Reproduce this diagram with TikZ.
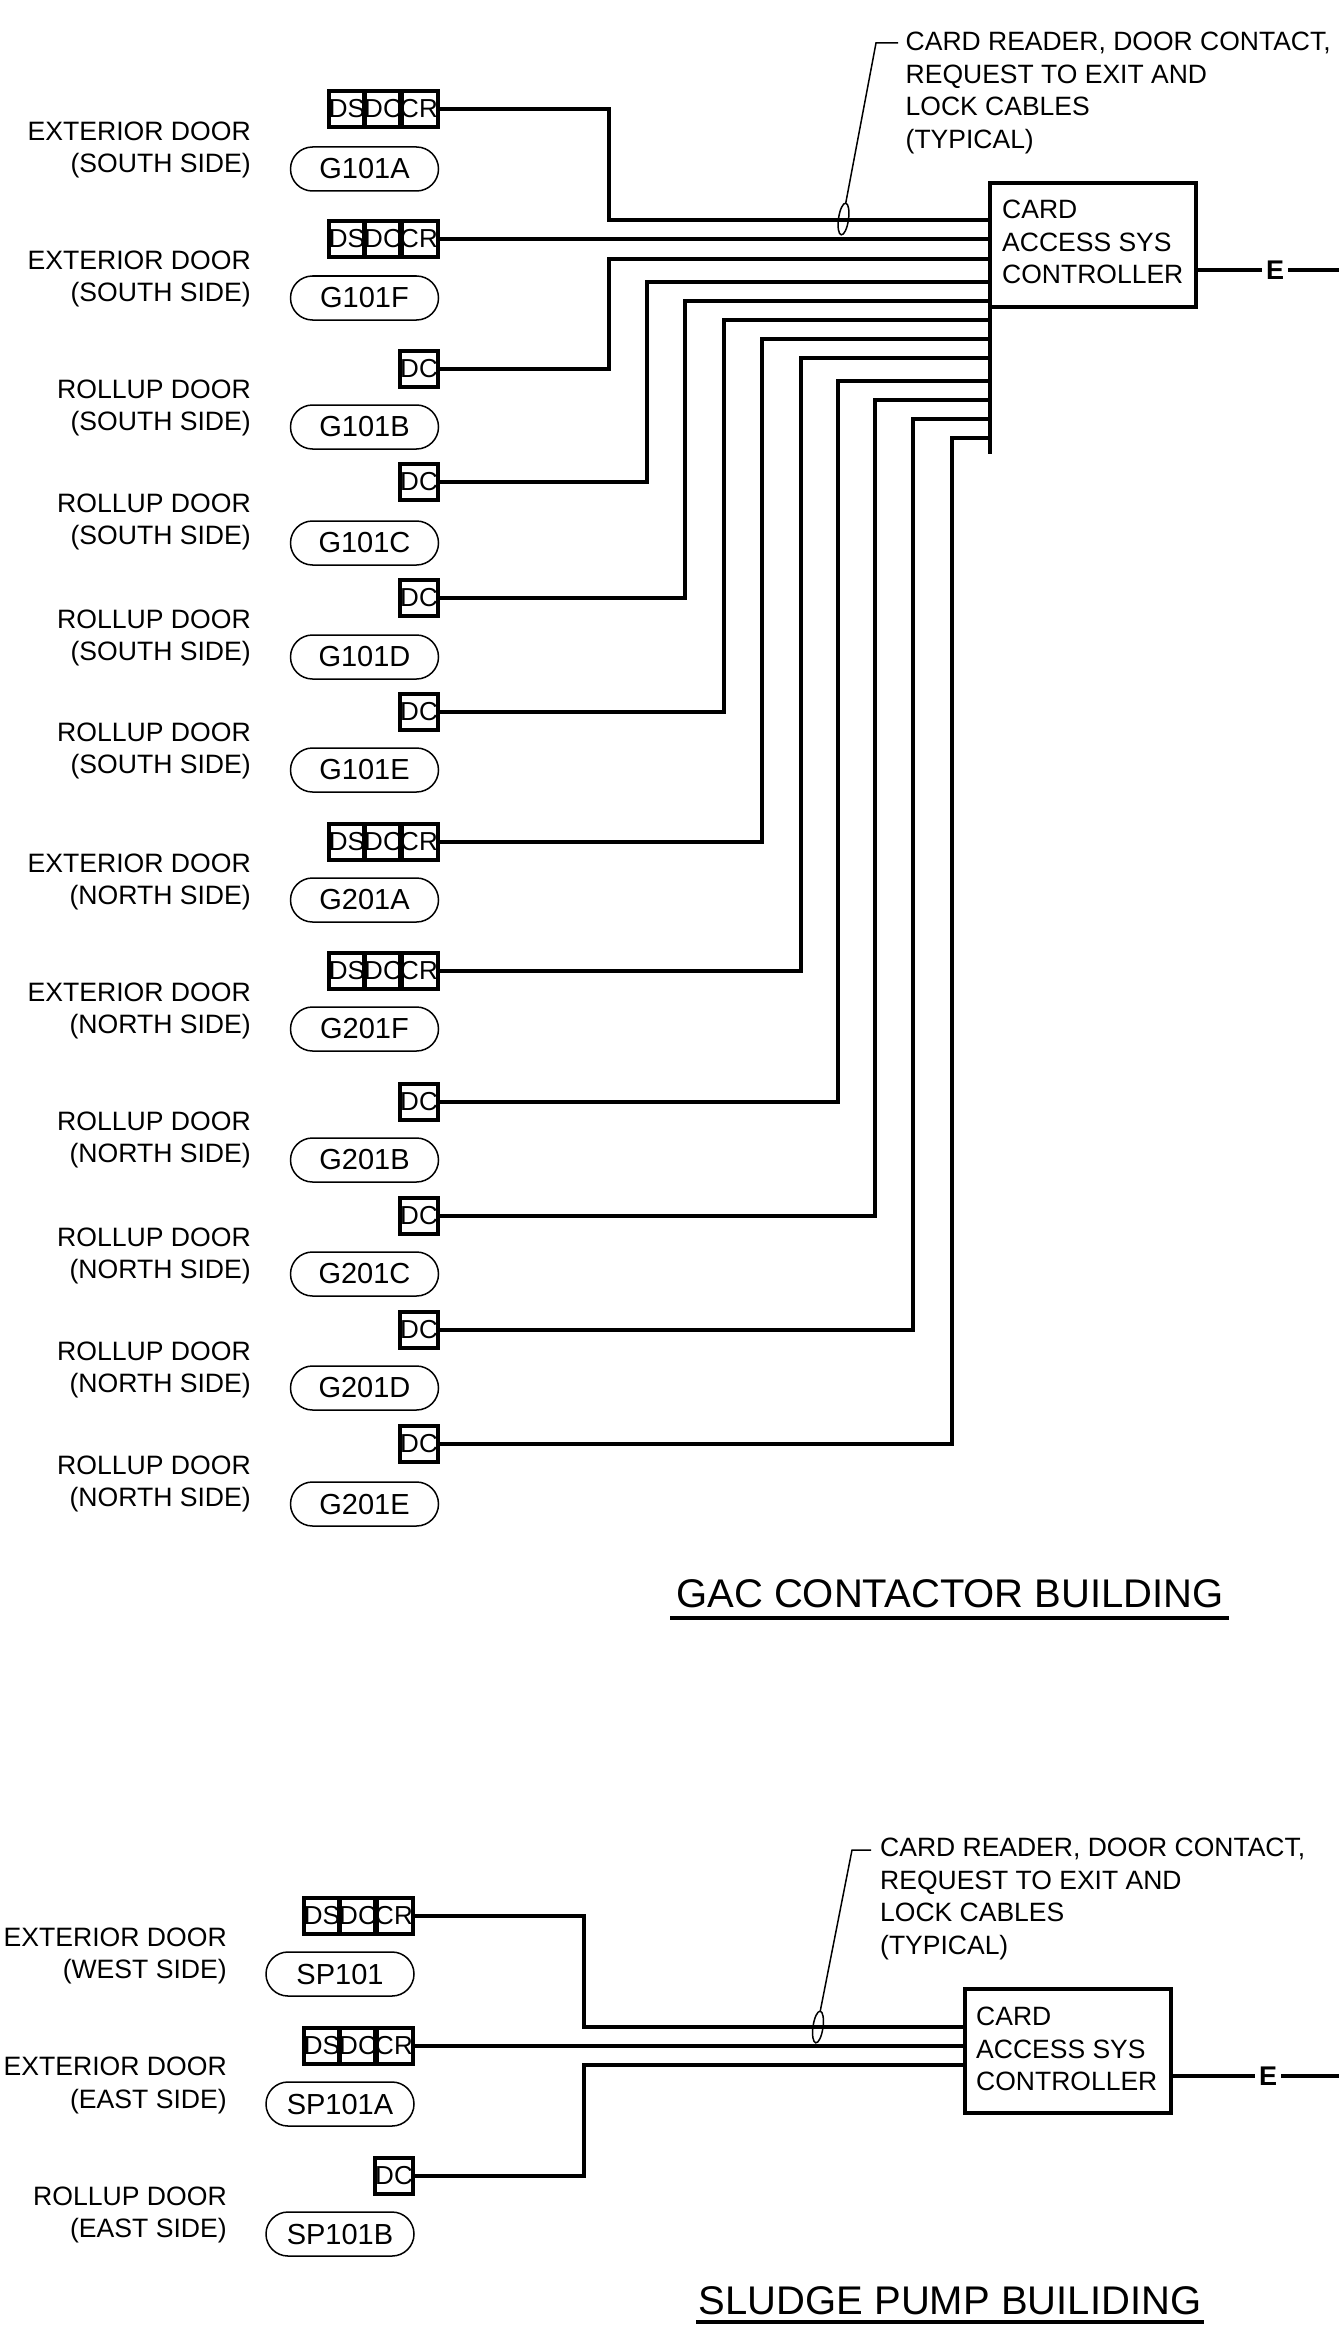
\documentclass[tikz,border=0pt]{standalone}
\usepackage{fontspec}
\setmainfont{Liberation Sans}
\usetikzlibrary{shapes.misc,shapes.geometric}

\tikzset{
  wire/.style={line width=4pt},
  cell/.style={draw, line width=4pt, minimum width=36pt, minimum height=36pt, inner sep=0pt, outer sep=0pt, font=\fontsize{26}{26}\selectfont},
  tag/.style={draw, rounded rectangle, line width=1.5pt, minimum width=148pt, minimum height=44pt, inner sep=0pt, outer sep=0pt, font=\fontsize{29}{29}\selectfont},
  door/.style={align=right, anchor=east, inner sep=0pt, xshift=1pt, yshift=-3pt, font=\fontsize{26.6}{32.5}\selectfont},
  note/.style={align=left, anchor=north west, inner sep=0pt, yshift=-5pt, font=\fontsize{26.5}{32.5}\selectfont},
  ctrl/.style={draw, line width=4pt, minimum width=206pt, minimum height=123.5pt, inner sep=0pt, outer sep=0pt},
  ctrltext/.style={align=left, anchor=west, inner sep=0pt, font=\fontsize{26.5}{32.5}\selectfont},
  letter/.style={inner xsep=4pt, inner ysep=0pt, outer sep=0pt, font=\fontsize{27}{27}\selectfont\bfseries},
  oval/.style={draw, ellipse, line width=1.5pt, minimum width=10pt, minimum height=32pt, inner sep=0pt, outer sep=0pt, rotate=-8},
  leader/.style={line width=1.5pt},
  title/.style={inner sep=0pt, font=\fontsize{40}{40}\selectfont}
}

\begin{document}
\begin{tikzpicture}[x=1pt,y=-1pt]
\useasboundingbox (0,0) rectangle (1339,2325);

% GAC contactor building: controller and bus
\node[ctrl] (ctrlA) at (1093,245) {};
\node[ctrltext] (ctrltextA) at (1002,242) {CARD\\ACCESS SYS\\CONTROLLER};
\coordinate (busendA) at (990,454);
\draw[wire] (ctrlA.south west) -- (busendA);
\coordinate (stubA) at (1197,270);
\node[letter] (letterA) at (1275,270) {E};
\coordinate (stubendA) at (1339,270);
\draw[wire] (stubA) -- (letterA) -- (stubendA);

% Note and its leader
\node[note] (noteA) at (905.5,27) {CARD READER, DOOR CONTACT,\\REQUEST TO EXIT AND\\LOCK CABLES\\(TYPICAL)};
\node[oval] (ovalA) at (843.5,219) {};
\coordinate (leadA) at (898,43);
\coordinate (kneeA) at (876,43);
\draw[leader] (leadA) -- (kneeA) -- (ovalA.north);

% Door boxes, tags and labels
\node[cell] (ds1) at (347,109) {DS};
\node[cell] (dc1) at (383,109) {DC};
\node[cell] (cr1) at (419,109) {CR};
\node[tag] (tag1) at (364.5,169) {G101A};
\node[door] (door1) at (250,147) {EXTERIOR DOOR\\(SOUTH SIDE)};

\node[cell] (ds2) at (347,239) {DS};
\node[cell] (dc2) at (383,239) {DC};
\node[cell] (cr2) at (419,239) {CR};
\node[tag] (tag2) at (364.5,298) {G101F};
\node[door] (door2) at (250,276) {EXTERIOR DOOR\\(SOUTH SIDE)};

\node[cell] (dc3) at (419,369) {DC};
\node[tag] (tag3) at (364.5,427) {G101B};
\node[door] (door3) at (250,405) {ROLLUP DOOR\\(SOUTH SIDE)};

\node[cell] (dc4) at (419,482) {DC};
\node[tag] (tag4) at (364.5,543) {G101C};
\node[door] (door4) at (250,519) {ROLLUP DOOR\\(SOUTH SIDE)};

\node[cell] (dc5) at (419,598) {DC};
\node[tag] (tag5) at (364.5,657) {G101D};
\node[door] (door5) at (250,635) {ROLLUP DOOR\\(SOUTH SIDE)};

\node[cell] (dc6) at (419,712) {DC};
\node[tag] (tag6) at (364.5,770) {G101E};
\node[door] (door6) at (250,748) {ROLLUP DOOR\\(SOUTH SIDE)};

\node[cell] (ds7) at (347,842) {DS};
\node[cell] (dc7) at (383,842) {DC};
\node[cell] (cr7) at (419,842) {CR};
\node[tag] (tag7) at (364.5,900) {G201A};
\node[door] (door7) at (250,879) {EXTERIOR DOOR\\(NORTH SIDE)};

\node[cell] (ds8) at (347,971) {DS};
\node[cell] (dc8) at (383,971) {DC};
\node[cell] (cr8) at (419,971) {CR};
\node[tag] (tag8) at (364.5,1029) {G201F};
\node[door] (door8) at (250,1008) {EXTERIOR DOOR\\(NORTH SIDE)};

\node[cell] (dc9) at (419,1102) {DC};
\node[tag] (tag9) at (364.5,1160) {G201B};
\node[door] (door9) at (250,1137) {ROLLUP DOOR\\(NORTH SIDE)};

\node[cell] (dc10) at (419,1216) {DC};
\node[tag] (tag10) at (364.5,1274) {G201C};
\node[door] (door10) at (250,1253) {ROLLUP DOOR\\(NORTH SIDE)};

\node[cell] (dc11) at (419,1330) {DC};
\node[tag] (tag11) at (364.5,1388) {G201D};
\node[door] (door11) at (250,1367) {ROLLUP DOOR\\(NORTH SIDE)};

\node[cell] (dc12) at (419,1444) {DC};
\node[tag] (tag12) at (364.5,1504) {G201E};
\node[door] (door12) at (250,1481) {ROLLUP DOOR\\(NORTH SIDE)};

% Cables into the bus
\coordinate (turn1) at (609,220);  \coordinate (bus1) at (990,220);
\coordinate (bus2) at (990,239);
\coordinate (turn3) at (609,259);  \coordinate (bus3) at (990,259);
\coordinate (turn4) at (647,282);  \coordinate (bus4) at (990,282);
\coordinate (turn5) at (685,301);  \coordinate (bus5) at (990,301);
\coordinate (turn6) at (724,320);  \coordinate (bus6) at (990,320);
\coordinate (turn7) at (762,339);  \coordinate (bus7) at (990,339);
\coordinate (turn8) at (801,358);  \coordinate (bus8) at (990,358);
\coordinate (turn9) at (838,381);  \coordinate (bus9) at (990,381);
\coordinate (turn10) at (875,400); \coordinate (bus10) at (990,400);
\coordinate (turn11) at (913,419); \coordinate (bus11) at (990,419);
\coordinate (turn12) at (952,438); \coordinate (bus12) at (990,438);

\draw[wire] (cr1.east) -| (turn1) -- (bus1);
\draw[wire] (cr2.east) -- (bus2);
\draw[wire] (dc3.east) -| (turn3) -- (bus3);
\draw[wire] (dc4.east) -| (turn4) -- (bus4);
\draw[wire] (dc5.east) -| (turn5) -- (bus5);
\draw[wire] (dc6.east) -| (turn6) -- (bus6);
\draw[wire] (cr7.east) -| (turn7) -- (bus7);
\draw[wire] (cr8.east) -| (turn8) -- (bus8);
\draw[wire] (dc9.east) -| (turn9) -- (bus9);
\draw[wire] (dc10.east) -| (turn10) -- (bus10);
\draw[wire] (dc11.east) -| (turn11) -- (bus11);
\draw[wire] (dc12.east) -| (turn12) -- (bus12);

% Title
\node[title] (titleA) at (950,1594) {GAC CONTACTOR BUILDING};
\draw[wire] (670,1618) -- (1229,1618);

% Sludge pump building: controller
\node[ctrl] (ctrlB) at (1068,2051) {};
\node[ctrltext] (ctrltextB) at (976,2049) {CARD\\ACCESS SYS\\CONTROLLER};
\coordinate (stubB) at (1172,2076);
\node[letter] (letterB) at (1268,2076) {E};
\coordinate (stubendB) at (1339,2076);
\draw[wire] (stubB) -- (letterB) -- (stubendB);

% Note and its leader
\node[note] (noteB) at (880,1833) {CARD READER, DOOR CONTACT,\\REQUEST TO EXIT AND\\LOCK CABLES\\(TYPICAL)};
\node[oval] (ovalB) at (818,2027) {};
\coordinate (leadB) at (871,1850);
\coordinate (kneeB) at (852,1850);
\draw[leader] (leadB) -- (kneeB) -- (ovalB.north);

% Door boxes, tags and labels
\node[cell] (ds13) at (322,1916) {DS};
\node[cell] (dc13) at (358,1916) {DC};
\node[cell] (cr13) at (394,1916) {CR};
\node[tag] (tag13) at (340,1974) {SP101};
\node[door] (door13) at (226,1953) {EXTERIOR DOOR\\(WEST SIDE)};

\node[cell] (ds14) at (322,2046) {DS};
\node[cell] (dc14) at (358,2046) {DC};
\node[cell] (cr14) at (394,2046) {CR};
\node[tag] (tag14) at (340,2104) {SP101A};
\node[door] (door14) at (226,2082.5) {EXTERIOR DOOR\\(EAST SIDE)};

\node[cell] (dc15) at (394,2176) {DC};
\node[tag] (tag15) at (340,2234) {SP101B};
\node[door] (door15) at (226,2212) {ROLLUP DOOR\\(EAST SIDE)};

% Cables into the controller
\coordinate (turn13) at (584,2027); \coordinate (bus13) at (965,2027);
\coordinate (bus14) at (965,2046);
\coordinate (turn15) at (584,2065); \coordinate (bus15) at (965,2065);

\draw[wire] (cr13.east) -| (turn13) -- (bus13);
\draw[wire] (cr14.east) -- (bus14);
\draw[wire] (dc15.east) -| (turn15) -- (bus15);

% Title
\node[title] (titleB) at (950,2301) {SLUDGE PUMP BUILIDING};
\draw[wire] (696,2322) -- (1204,2322);

\end{tikzpicture}
\end{document}
